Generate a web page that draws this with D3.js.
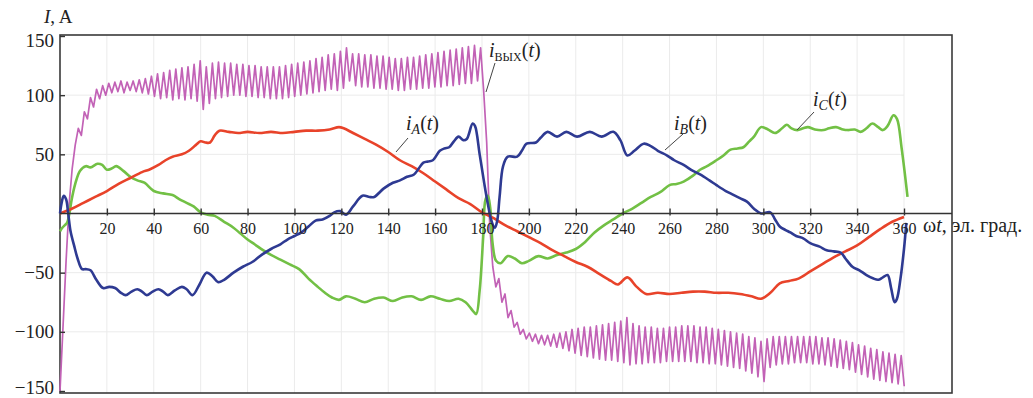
<!DOCTYPE html>
<html><head><meta charset="utf-8">
<script src="https://cdn.jsdelivr.net/npm/d3@7"></script>
<style>
body{margin:0;background:#fff;}
svg{display:block;font-family:"Liberation Serif","Times New Roman",serif;}
</style></head>
<body>
<svg id="chart" width="1033" height="398"></svg>
<script>
// ---- data ----
const xTicks = [20,40,60,80,100,120,140,160,180,200,220,240,260,280,300,320,340,360];
const yTicks = [-150,-100,-50,50,100,150];

// i_A(t): [angle, current]
const iA = [[0,0],[5,4],[10,9],[15,14],[20,19],[25,25],[30,30],[35,35],[38,37],[42,41],[45,45],[48,48],[52,50],[55,53],[58,58],[60,61],[62,60],[64,60],[66,66],[68,70],[72,69],[76,68],[80,69],[85,68],[90,69],[95,68],[100,69],[105,70],[110,70],[115,71],[119,73],[121,72],[125,68],[130,63],[135,58],[140,52],[145,45],[150,40],[155,34],[160,27],[165,20],[170,13],[175,8],[180,1],[185,-4],[190,-10],[195,-15],[200,-20],[205,-25],[210,-31],[215,-36],[220,-41],[225,-45],[230,-51],[235,-57],[238,-60],[242,-54],[246,-62],[250,-68],[255,-67],[260,-68],[265,-67],[270,-66],[275,-66],[280,-67],[285,-67],[290,-68],[295,-70],[299,-72],[303,-67],[307,-59],[311,-57],[315,-55],[320,-49],[325,-43],[330,-37],[335,-32],[340,-27],[345,-20],[350,-13],[355,-7],[360,-3]];

// i_B(t)
const iB = [[0,0],[0.8,10],[1.6,15],[2.6,12],[3.5,0],[4.5,-15],[6,-27],[7.5,-38],[9.4,-47],[11,-47],[13,-48],[15.5,-56],[18.4,-63],[21,-62],[23.5,-63],[26,-67],[28,-69],[30.5,-66],[33,-64],[35,-66],[37,-69],[39.5,-66],[42,-64],[44,-66],[46,-69],[49,-65],[52,-62],[54,-64],[56.5,-69],[59.5,-60],[62.5,-50],[65,-53],[67.5,-58],[70,-56],[74,-50],[78,-45],[82,-41],[86,-35],[90,-30],[94,-26],[97,-22],[100,-19],[103,-16],[106,-11],[109,-6],[112,-5],[115,-2],[117,1],[119.5,2],[122,-1],[125,6],[129,15],[132,14],[134,14],[138,21],[142,26],[145,28],[148,31],[151,33],[153,38],[155,43],[157,44],[159,45],[162,53],[164,55],[166,56],[168,61],[170,65],[172,62],[173.5,63],[176,76],[177,74],[179,50],[181,25],[182.5,8],[184,-6],[185.5,-12],[186.5,-6],[187.5,14],[189,40],[191,48],[195,48],[197,53],[199,59],[203,60],[205,64],[208,69],[212,65],[216,69],[220.5,65],[226,69],[231,65],[236,69],[239,62],[242,49],[245,53],[249,59],[252,57],[255,53],[259,49],[262,45],[266,41],[270,36],[273,33],[277,28],[280,24],[284,19],[287,16],[290,13],[293,10],[296,4],[299,0],[303,1],[305,-5],[307,-11],[309.5,-14],[311.5,-16],[314,-19],[317,-21],[320,-25],[324,-28],[327,-31],[330,-32],[333,-33],[335,-38],[338,-45],[341,-48],[344,-52],[347,-55],[349,-56],[351,-54],[353,-52],[354.5,-63],[356,-75],[357,-72],[358.5,-55],[360,-30],[361,-8]];

// i_C(t)
const iC = [[0,-15],[1,-12],[2,-10],[3,-8],[4,0],[5,12],[6.5,25],[8.5,36],[11,40],[13,39],[16,42],[18,41],[20,37],[22,38],[24,40],[27,36],[30,31],[33,28],[36,26],[40,19],[44,17],[48,15.6],[51,12],[54,9],[57,6],[60,1],[63,-1],[66,-2],[70,-7],[74,-12],[77,-17],[80,-22],[83,-26],[86.6,-31],[90,-35],[94,-39],[98,-43],[102,-47],[106,-55],[110,-62],[113,-67],[116,-71],[119,-73],[122,-70],[126,-72],[130,-75],[134,-72],[138,-71],[142,-74],[146,-71],[150,-70],[154,-73],[158,-70],[162,-72],[166,-74],[170,-72],[173,-75],[176,-82],[177.5,-85],[179,-65],[180.5,-20],[181.5,12],[182.5,15],[183.5,5],[184.5,-25],[186,-40],[188,-42],[191,-36],[194,-38],[197,-42],[200,-40],[204,-36],[208,-38],[212,-35],[216,-33],[220,-30],[224,-24],[228,-16],[232,-10],[236,-5],[240,0],[244,4],[248,9],[252,14],[256,18],[260,24],[263,25],[266,27],[270,32],[273,37],[276,40],[280,45],[283,49],[286,54],[289,55],[291.5,56],[294,61],[296,65],[299,73],[302,71],[305,68],[308,72],[310,75],[312,72],[314.5,70.5],[317,72],[319,73],[322,71],[325.7,70.5],[328,72],[331,73],[334,71],[336,70.5],[339,71],[341.5,69],[344,72],[346.5,76],[349,73],[351,70.5],[353,74],[355.5,83],[357,80],[359,55],[361.5,14]];

// i_vyh(t): sampled every 1.3 el. deg starting at 0
const iOutStep = 1.3;
const iOut = [
-150,-95,-40,8,38,58,72,66,86,80,98,90,105,97,108,100,
110,102,111,103,112,102,111,104,112,103,113,102,114,101,116,99,
118,97,119,98,121,96,122,97,123,96,124,97,126,95,129,88,124,93,
127,97,128,98,127,99,127,100,126,100,126,99,125,99,125,98,124,98,124,97,
124,97,124,97,125,98,126,99,127,100,128,101,129,102,131,103,132,104,134,105,
135,104,137,106,140,112,135,108,135,107,134,107,134,106,133,106,133,105,132,105,
131,104,131,104,132,105,132,105,133,106,134,106,135,107,136,107,137,108,138,108,
139,109,140,110,141,110,142,112,140,104,
60,-10,-45,-62,-55,-75,-68,-88,-82,-96,-92,-102,-98,-106,-101,-108,-102,-110,-103,-111,
-103,-112,-102,-113,-101,-114,-100,-116,-98,-118,-97,-120,-96,-121,-96,-122,-95,-123,-94,-124,
-93,-124,-92,-125,-91,-126,-88,-128,-93,-127,-95,-127,-96,-126,-96,-126,-97,-126,-97,-125,
-96,-125,-96,-125,-95,-125,-95,-125,-95,-126,-96,-126,-96,-127,-97,-127,-98,-128,-99,-129,
-100,-130,-101,-131,-102,-133,-104,-135,-105,-138,-108,-142,-106,-130,-104,-128,-104,-127,-104,-127,
-104,-126,-104,-126,-104,-126,-104,-127,-104,-127,-105,-128,-105,-129,-106,-130,-107,-131,-108,-132,
-109,-134,-111,-136,-112,-138,-114,-140,-115,-141,-117,-142,-118,-143,-119,-144,-120,-146];

// ---- drawing ----
const svg = d3.select("#chart");
const frame = {left:60, top:35, right:952, bottom:393};
const x = d3.scaleLinear().domain([0,360]).range([60,904]);
const y = d3.scaleLinear().domain([-150,150]).range([391,36]);

// grid
const grid = svg.append("g").attr("stroke","#ebebeb").attr("stroke-width",1);
grid.selectAll("line.v").data(xTicks).join("line")
  .attr("x1",d=>x(d)).attr("x2",d=>x(d)).attr("y1",frame.top).attr("y2",frame.bottom);
grid.selectAll("line.h").data([-100,-50,50,100]).join("line")
  .attr("x1",frame.left).attr("x2",x(360)).attr("y1",d=>y(d)).attr("y2",d=>y(d));

// frame
svg.append("rect").attr("x",frame.left).attr("y",frame.top)
  .attr("width",frame.right-frame.left).attr("height",frame.bottom-frame.top)
  .attr("fill","none").attr("stroke","#3a3a3a").attr("stroke-width",1.6);

// curves
const lineSmooth = d3.line().x(d=>x(d[0])).y(d=>y(d[1])).curve(d3.curveCatmullRom.alpha(0.5));
const lineOut = d3.line().x((d,i)=>x(i*iOutStep)).y(d=>y(d));

svg.append("path").datum(iOut).attr("d",lineOut)
  .attr("fill","none").attr("stroke","#c262b6").attr("stroke-width",1.7).attr("stroke-linejoin","round");
svg.append("path").datum(iC).attr("d",lineSmooth)
  .attr("fill","none").attr("stroke","#72c045").attr("stroke-width",2.6).attr("stroke-linejoin","round");
svg.append("path").datum(iA).attr("d",lineSmooth)
  .attr("fill","none").attr("stroke","#e8432a").attr("stroke-width",2.6).attr("stroke-linejoin","round");
svg.append("path").datum(iB).attr("d",lineSmooth)
  .attr("fill","none").attr("stroke","#2e3a92").attr("stroke-width",2.6).attr("stroke-linejoin","round");

// x axis at zero
const xAxis = d3.axisBottom(x).tickValues(xTicks).tickSizeInner(-5).tickSizeOuter(0).tickPadding(9);
const gx = svg.append("g").attr("transform",`translate(0,${y(0)})`).call(xAxis);
gx.select(".domain").remove();
gx.selectAll(".tick line").attr("stroke","#333").attr("stroke-width",1.4).attr("y2",-5).attr("y1",2);
gx.selectAll(".tick text").attr("font-family","Liberation Serif").attr("font-size",16).attr("fill","#222");
svg.append("line").attr("x1",frame.left).attr("x2",frame.right).attr("y1",y(0)).attr("y2",y(0))
  .attr("stroke","#333").attr("stroke-width",1.6);

// y axis
const yAxis = d3.axisLeft(y).tickValues(yTicks).tickSizeInner(-5).tickSizeOuter(0).tickPadding(6)
  .tickFormat(d=> d<0 ? "\u2212"+Math.abs(d) : d);
const gy = svg.append("g").attr("transform",`translate(${frame.left},0)`).call(yAxis);
gy.select(".domain").remove();
gy.selectAll(".tick line").attr("stroke","#333").attr("stroke-width",1.4);
gy.selectAll(".tick text").attr("font-family","Liberation Serif").attr("font-size",19).attr("fill","#222")
  .attr("dy", d => d===150 ? "0.55em" : (d===-150 ? "0.15em" : "0.32em"));

// axis titles
const t1 = svg.append("text").attr("x",44).attr("y",23).attr("font-size",19).attr("fill","#222");
t1.append("tspan").attr("font-style","italic").text("I");
t1.append("tspan").text(", A");

const t2 = svg.append("text").attr("x",923).attr("y",232).attr("font-size",20).attr("fill","#222");
t2.append("tspan").text("\u03c9");
t2.append("tspan").attr("font-style","italic").text("t");
t2.append("tspan").text(", эл. град.");

// series labels
function label(xp, yp, sub, smallcaps){
  const t = svg.append("text").attr("x",xp).attr("y",yp).attr("font-size",20).attr("fill","#222");
  t.append("tspan").attr("font-style","italic").text("i");
  const s = t.append("tspan").attr("dy",4).attr("font-size",14).text(sub);
  if(smallcaps){ s.style("font-variant","small-caps").attr("font-size",17); }
  else { s.attr("font-style","italic"); }
  t.append("tspan").attr("dy",-4).text("(");
  t.append("tspan").attr("font-style","italic").text("t");
  t.append("tspan").text(")");
}
label(489,57,"вых",true);
label(406,130,"A",false);
label(674,130,"B",false);
label(813,106,"C",false);

// leader lines
const leaders = [[495,63,486,92],[408,138,396,152],[683,134,665,150],[814,112,797,130]];
svg.selectAll("line.leader").data(leaders).join("line").attr("class","leader")
  .attr("x1",d=>d[0]).attr("y1",d=>d[1]).attr("x2",d=>d[2]).attr("y2",d=>d[3])
  .attr("stroke","#444").attr("stroke-width",1);
</script>
</body></html>
